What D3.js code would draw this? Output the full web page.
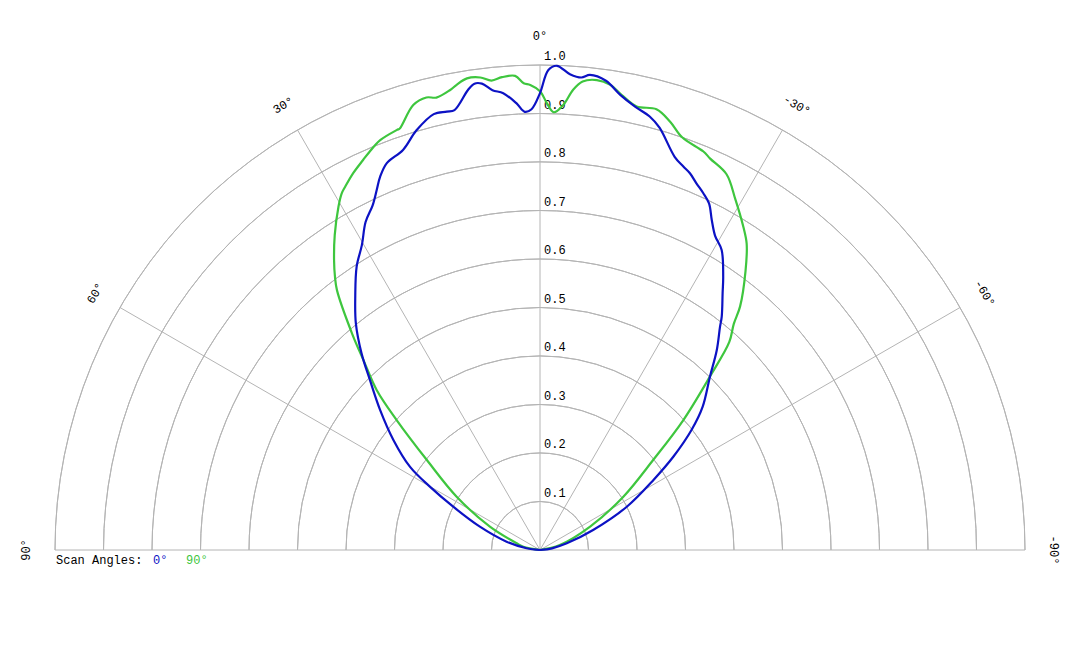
<!DOCTYPE html>
<html>
<head>
<meta charset="utf-8">
<script src="https://cdn.jsdelivr.net/npm/d3@7"></script>
<style>
  body { margin: 0; background: #fff; }
  text { font-family: "Courier New", "Liberation Mono", monospace; font-size: 12px; }
</style>
</head>
<body>
<div id="container"></div>
<script>
// scan 0 deg (blue) - angle in degrees, positive to the left
var blueAngles = [90, 82.7, 76, 68.8, 63.5, 60.1, 57.4, 53.1, 48.8, 45, 42.2, 39.1, 36, 32.9, 30.3, 28, 25.9, 24.4, 23.2, 21.6, 18.9, 16.4, 13.7, 12, 11, 8.9, 8, 7.1, 5.9, 4.6, 3, 2, 1.1, 0,
  -1, -2, -3.6, -5, -6, -8, -10, -12.1, -14.2, -15.8, -18.9, -20.5, -21.7, -23.1, -24.6, -26, -27.5, -29.1, -31.2, -33.8, -35.4, -37.9, -38.9, -41.5, -44.4, -48.7, -51.6, -55, -58.3, -63.5, -69.4, -76, -82, -90];
var blueValues = [0, 0.028, 0.071, 0.133, 0.200, 0.262, 0.318, 0.378, 0.438, 0.496, 0.548, 0.602, 0.648, 0.696, 0.728, 0.766, 0.790, 0.815, 0.837, 0.858, 0.872, 0.902, 0.925, 0.924, 0.924, 0.960, 0.971, 0.969, 0.953, 0.945, 0.922, 0.904, 0.909, 0.942,
  0.990, 0.999, 0.983, 0.978, 0.985, 0.977, 0.953, 0.935, 0.922, 0.905, 0.857, 0.844, 0.836, 0.822, 0.809, 0.795, 0.767, 0.742, 0.723, 0.679, 0.650, 0.610, 0.591, 0.550, 0.501, 0.446, 0.399, 0.336, 0.275, 0.200, 0.117, 0.057, 0.025, 0];

// scan 90 deg (green)
var greenAngles = [90, 78.8, 74, 65, 57.4, 51.5, 47.8, 45.6, 42.9, 41, 38, 36.9, 35.4, 33.1, 30.4, 29.1, 28.2, 26.4, 24.4, 23.2, 21.3, 18.8, 18.4, 15.9, 14.1, 12.9, 11.1, 10.2, 8.8, 7.2, 5.9, 4.6, 3, 2, 1.2, 0,
  -0.9, -1.8, -3, -4.1, -5.2, -6.9, -8.6, -10.2, -12.3, -14.8, -16.9, -19, -22.3, -23.5, -26.4, -29.1, -32.2, -34, -36.4, -39.4, -40.6, -42.3, -44.4, -47.8, -51.5, -57.4, -65, -76, -90];
var greenValues = [0, 0.035, 0.050, 0.114, 0.204, 0.298, 0.399, 0.471, 0.535, 0.590, 0.680, 0.704, 0.733, 0.775, 0.821, 0.841, 0.850, 0.867, 0.883, 0.893, 0.907, 0.915, 0.916, 0.954, 0.962, 0.957, 0.966, 0.974, 0.984, 0.982, 0.973, 0.978, 0.979, 0.963, 0.959, 0.946,
  0.921, 0.903, 0.919, 0.951, 0.970, 0.976, 0.970, 0.953, 0.936, 0.940, 0.923, 0.900, 0.888, 0.880, 0.865, 0.828, 0.787, 0.762, 0.714, 0.650, 0.614, 0.580, 0.501, 0.399, 0.298, 0.204, 0.114, 0.042, 0];

var ringValues = [0.1, 0.2, 0.3, 0.4, 0.5, 0.6, 0.7, 0.8, 0.9, 1.0];
var spokeAngles = [90, 60, 30, 0, -30, -60, -90];

var width = 1080;
var height = 648;
var cx = 540;
var cy = 550;
var radius = 485;

var r = d3.scaleLinear().domain([0, 1]).range([0, radius]);
// positive degrees on the left, d3 radial angle 0 = up, clockwise
var a = d3.scaleLinear().domain([-90, 90]).range([Math.PI / 2, -Math.PI / 2]);

var svg = d3.select("#container").append("svg")
            .attr("width", width)
            .attr("height", height);

var g = svg.append("g").attr("transform", "translate(" + cx + "," + cy + ")");

// rings
var ringArc = d3.arc()
                .innerRadius(function(d) { return r(d); })
                .outerRadius(function(d) { return r(d); })
                .startAngle(-Math.PI / 2)
                .endAngle(Math.PI / 2);

g.selectAll(".ring")
 .data(ringValues)
 .enter()
 .append("path")
 .attr("class", "ring")
 .attr("d", ringArc)
 .style("fill", "none")
 .style("stroke", "#b4b4b4")
 .style("stroke-width", 1);

// spokes
g.selectAll(".spoke")
 .data(spokeAngles)
 .enter()
 .append("line")
 .attr("class", "spoke")
 .attr("x1", 0)
 .attr("y1", 0)
 .attr("x2", function(d) { return r(1) * Math.sin(a(d)); })
 .attr("y2", function(d) { return -r(1) * Math.cos(a(d)); })
 .style("stroke", "#b4b4b4")
 .style("stroke-width", 1);

// radius labels
g.selectAll(".rlabel")
 .data(ringValues)
 .enter()
 .append("text")
 .attr("class", "rlabel")
 .attr("x", 4)
 .attr("y", function(d) { return -r(d) - 5; })
 .attr("fill", "black")
 .text(function(d) { return d.toFixed(1); });

// angle labels
g.selectAll(".alabel")
 .data(spokeAngles)
 .enter()
 .append("text")
 .attr("class", "alabel")
 .attr("text-anchor", "middle")
 .attr("dy", "0.35em")
 .attr("transform", function(d) {
   var x = 514 * Math.sin(a(d));
   var y = -514 * Math.cos(a(d));
   return "translate(" + x + "," + y + ") rotate(" + (-d) + ")";
 })
 .attr("fill", "black")
 .text(function(d) { return d + "\u00b0"; });

// curves
var line = d3.lineRadial()
             .angle(function(d) { return a(d[0]); })
             .radius(function(d) { return r(d[1]); })
             .curve(d3.curveCatmullRom.alpha(0.5));

function drawSeries(angles, values, color) {
  var pts = angles.map(function(d, i) { return [d, values[i]]; });
  g.append("path")
   .datum(pts)
   .attr("d", line)
   .style("fill", "none")
   .style("stroke", color)
   .style("stroke-width", 2.2)
   .style("stroke-linejoin", "round");
}

drawSeries(greenAngles, greenValues, "#3ec63e");
drawSeries(blueAngles, blueValues, "#0c12c4");

// legend
var legend = svg.append("text").attr("x", 56).attr("y", 564);
legend.append("tspan").attr("fill", "black").text("Scan Angles:  ");
legend.append("tspan").attr("fill", "#0c12c4").attr("x", 153).text("0\u00b0");
legend.append("tspan").attr("fill", "#3ec63e").attr("x", 186).text("90\u00b0");
</script>
</body>
</html>
